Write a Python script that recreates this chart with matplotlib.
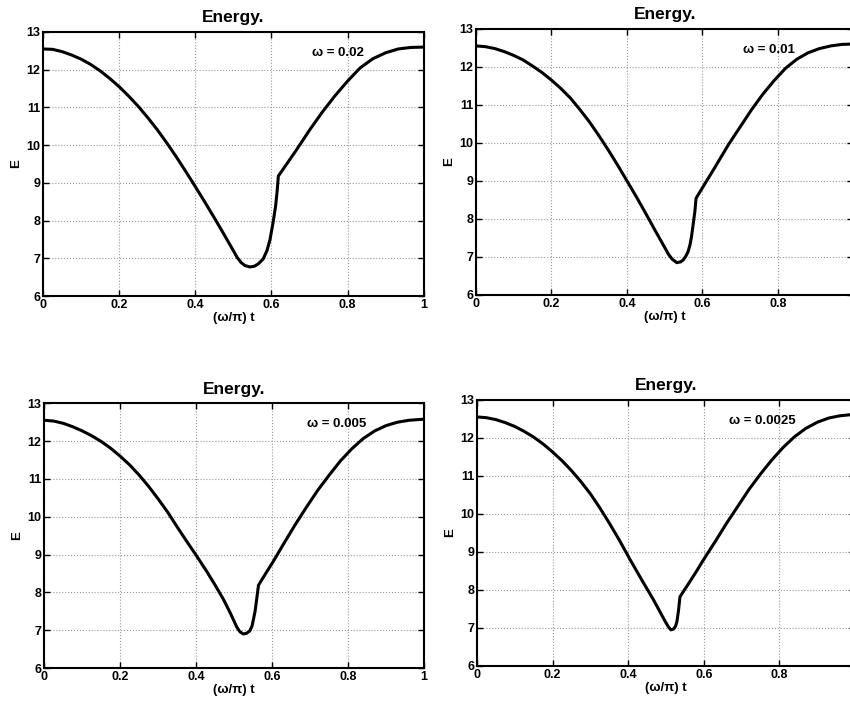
import matplotlib
matplotlib.use('Agg')
import matplotlib.pyplot as plt

plt.rcParams['font.family'] = ['Liberation Sans', 'DejaVu Sans']

# values
omega_labels = ['\u03c9 = 0.02', '\u03c9 = 0.01', '\u03c9 = 0.005', '\u03c9 = 0.0025']

x1 = [0, 0.025, 0.05, 0.075, 0.1, 0.125, 0.15, 0.175, 0.2, 0.225, 0.25, 0.275, 0.3, 0.325,
      0.35, 0.375, 0.4, 0.425, 0.45, 0.475, 0.5, 0.51, 0.52, 0.53, 0.543, 0.555, 0.565, 0.578,
      0.588, 0.596, 0.605, 0.611, 0.615, 0.618, 0.64, 0.666, 0.7, 0.733, 0.766, 0.8, 0.833,
      0.866, 0.9, 0.933, 0.966, 1.0]
e1 = [12.55, 12.54, 12.48, 12.39, 12.28, 12.14, 11.97, 11.77, 11.55, 11.3, 11.03, 10.73, 10.41, 10.06,
      9.69, 9.3, 8.9, 8.49, 8.07, 7.64, 7.2, 7.02, 6.89, 6.81, 6.77, 6.79, 6.85, 6.98,
      7.2, 7.49, 8.0, 8.4, 8.8, 9.18, 9.5, 9.88, 10.4, 10.87, 11.3, 11.7, 12.05,
      12.29, 12.45, 12.55, 12.59, 12.6]

x2 = [0, 0.025, 0.05, 0.075, 0.1, 0.125, 0.15, 0.175, 0.2, 0.225, 0.25, 0.275, 0.3, 0.325,
      0.35, 0.375, 0.4, 0.425, 0.45, 0.475, 0.5, 0.51, 0.52, 0.532, 0.542, 0.549, 0.556, 0.562,
      0.567, 0.571, 0.576, 0.58, 0.583, 0.6, 0.629, 0.67, 0.7, 0.73, 0.76, 0.79, 0.82,
      0.85, 0.88, 0.91, 0.94, 0.97, 1.0]
e2 = [12.55, 12.53, 12.48, 12.4, 12.3, 12.18, 12.02, 11.85, 11.65, 11.43, 11.18, 10.88, 10.56, 10.2,
      9.82, 9.42, 9.0, 8.58, 8.14, 7.69, 7.25, 7.07, 6.94, 6.85, 6.87, 6.92, 7.02, 7.14,
      7.32, 7.53, 7.9, 8.2, 8.54, 8.82, 9.29, 9.97, 10.42, 10.87, 11.28, 11.64, 11.96,
      12.2, 12.37, 12.48, 12.55, 12.59, 12.6]

x3 = [0, 0.025, 0.05, 0.075, 0.1, 0.125, 0.15, 0.175, 0.2, 0.225, 0.25, 0.275, 0.3, 0.325,
      0.35, 0.375, 0.4, 0.428, 0.45, 0.472, 0.49, 0.507, 0.515, 0.524, 0.533, 0.541, 0.547,
      0.551, 0.555, 0.559, 0.564, 0.583, 0.603, 0.63, 0.66, 0.69, 0.72, 0.75, 0.78, 0.81,
      0.84, 0.87, 0.9, 0.93, 0.96, 1.0]
e3 = [12.55, 12.53, 12.47, 12.38, 12.27, 12.14, 11.99, 11.81, 11.6, 11.37, 11.1, 10.8, 10.47, 10.12,
      9.73, 9.35, 8.98, 8.55, 8.19, 7.81, 7.45, 7.08, 6.96, 6.9, 6.92, 6.98, 7.11,
      7.3, 7.5, 7.8, 8.19, 8.5, 8.82, 9.28, 9.78, 10.25, 10.7, 11.1, 11.48, 11.8,
      12.07, 12.27, 12.41, 12.5, 12.55, 12.58]

x4 = [0, 0.025, 0.05, 0.075, 0.1, 0.125, 0.15, 0.175, 0.2, 0.225, 0.25, 0.275, 0.3, 0.325,
      0.35, 0.375, 0.405, 0.435, 0.467, 0.498, 0.507, 0.513, 0.52, 0.525, 0.529, 0.533, 0.537,
      0.56, 0.58, 0.599, 0.63, 0.66, 0.69, 0.72, 0.75, 0.78, 0.81, 0.84, 0.87, 0.9,
      0.93, 0.96, 1.0]
e4 = [12.55, 12.53, 12.48, 12.4, 12.3, 12.17, 12.02, 11.84, 11.63, 11.4, 11.14, 10.85, 10.53, 10.16,
      9.76, 9.34, 8.8, 8.28, 7.74, 7.17, 7.02, 6.95, 6.97, 7.04, 7.17, 7.45, 7.82,
      8.17, 8.48, 8.79, 9.27, 9.75, 10.2, 10.65, 11.05, 11.42, 11.75, 12.03, 12.25, 12.41,
      12.52, 12.58, 12.62]

curves = [(x1, e1), (x2, e2), (x3, e3), (x4, e4)]
label_x = [0.775, 0.775, 0.77, 0.755]

# axes rectangles in figure fraction (right column runs off the page like the scan)
rects = [
    [0.0506, 0.5807, 0.448, 0.374],
    [0.5600, 0.5822, 0.444, 0.377],
    [0.0520, 0.0538, 0.447, 0.375],
    [0.5610, 0.0567, 0.445, 0.377],
]

fig = plt.figure(figsize=(8.5, 7.06), dpi=100)

for i, rect in enumerate(rects):
    ax = fig.add_axes(rect)
    xs, es = curves[i]
    ax.plot(xs, es, color='black', lw=2.2, solid_joinstyle='round')
    ax.set_xlim(0, 1)
    ax.set_ylim(6, 13)
    ax.set_xticks([0, 0.2, 0.4, 0.6, 0.8, 1])
    xlabels = ['0', '0.2', '0.4', '0.6', '0.8', '1']
    if i % 2 == 1:
        xlabels[-1] = ''  # off the page in the scan
    ax.set_xticklabels(xlabels)
    ax.set_yticks(range(6, 14))
    ax.grid(True, linestyle=':', color='#999999', lw=0.8)
    ax.tick_params(direction='in', top=True, right=True, length=4, width=1,
                   labelsize=9, pad=2)
    for lab in ax.get_xticklabels() + ax.get_yticklabels():
        lab.set_fontweight('bold')
    for sp in ax.spines.values():
        sp.set_linewidth(1.5)
    ax.set_title('Energy.', fontsize=12.5, fontweight='bold', pad=7)
    ax.set_xlabel('(\u03c9/\u03c0) t', fontsize=9.5, fontweight='bold', labelpad=1)
    ax.set_ylabel('E', fontsize=9.5, fontweight='bold', labelpad=3)
    ax.text(label_x[i], 12.45, omega_labels[i], fontsize=9.5, fontweight='bold',
            ha='center', va='center')

fig.savefig('out.png', dpi=100)
